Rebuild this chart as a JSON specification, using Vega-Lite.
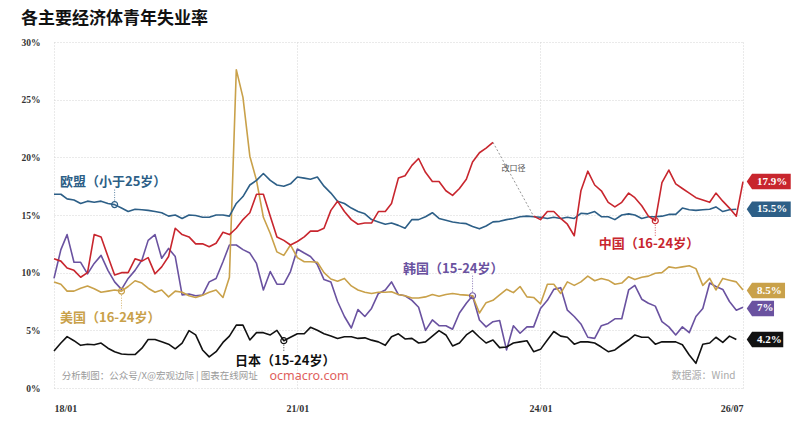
{
  "$schema": "https://vega.github.io/schema/vega-lite/v6.json",
  "width": 689,
  "height": 346,
  "autosize": {"type": "none"},
  "padding": {"left": 54, "top": 42, "right": 57, "bottom": 46},
  "background": "white",
  "title": {
    "text": "各主要经济体青年失业率",
    "anchor": "start",
    "font": "Noto Sans CJK SC",
    "fontSize": 17,
    "fontWeight": "bold",
    "color": "#111111",
    "offset": 9
  },
  "config": {
    "view": {"stroke": null},
    "font": "Noto Sans CJK SC",
    "axis": {
      "labelFont": "Liberation Serif",
      "labelFontWeight": "bold",
      "labelColor": "#333333",
      "ticks": false,
      "domain": false,
      "grid": true,
      "gridColor": "#d4d4d4",
      "gridDash": [1, 2],
      "gridWidth": 1
    }
  },
  "datasets": {
    "lines": [
      {"s":"kr","d":"2018-01","v":9.5},{"s":"kr","d":"2018-02","v":12.0},{"s":"kr","d":"2018-03","v":13.3},{"s":"kr","d":"2018-04","v":10.9},{"s":"kr","d":"2018-05","v":10.9},{"s":"kr","d":"2018-06","v":9.9},{"s":"kr","d":"2018-07","v":10.8},{"s":"kr","d":"2018-08","v":11.5},{"s":"kr","d":"2018-09","v":10.2},{"s":"kr","d":"2018-10","v":9.2},{"s":"kr","d":"2018-11","v":8.55},{"s":"kr","d":"2018-12","v":9.5},
      {"s":"kr","d":"2019-01","v":10.2},{"s":"kr","d":"2019-02","v":11.1},{"s":"kr","d":"2019-03","v":12.8},{"s":"kr","d":"2019-04","v":13.3},{"s":"kr","d":"2019-05","v":11.25},{"s":"kr","d":"2019-06","v":12.1},{"s":"kr","d":"2019-07","v":11.4},{"s":"kr","d":"2019-08","v":8.07},{"s":"kr","d":"2019-09","v":8.15},{"s":"kr","d":"2019-10","v":8.0},{"s":"kr","d":"2019-11","v":8.05},{"s":"kr","d":"2019-12","v":9.2},
      {"s":"kr","d":"2020-01","v":9.5},{"s":"kr","d":"2020-02","v":10.95},{"s":"kr","d":"2020-03","v":12.4},{"s":"kr","d":"2020-04","v":12.4},{"s":"kr","d":"2020-05","v":12.0},{"s":"kr","d":"2020-06","v":11.7},{"s":"kr","d":"2020-07","v":10.8},{"s":"kr","d":"2020-08","v":8.5},{"s":"kr","d":"2020-09","v":10.1},{"s":"kr","d":"2020-10","v":9.0},{"s":"kr","d":"2020-11","v":9.0},{"s":"kr","d":"2020-12","v":10.1},
      {"s":"kr","d":"2021-01","v":12.05},{"s":"kr","d":"2021-02","v":11.7},{"s":"kr","d":"2021-03","v":11.4},{"s":"kr","d":"2021-04","v":10.7},{"s":"kr","d":"2021-05","v":9.4},{"s":"kr","d":"2021-06","v":9.2},{"s":"kr","d":"2021-07","v":7.5},{"s":"kr","d":"2021-08","v":6.2},{"s":"kr","d":"2021-09","v":5.2},{"s":"kr","d":"2021-10","v":6.8},{"s":"kr","d":"2021-11","v":6.2},{"s":"kr","d":"2021-12","v":6.9},
      {"s":"kr","d":"2022-01","v":8.2},{"s":"kr","d":"2022-02","v":8.5},{"s":"kr","d":"2022-03","v":9.2},{"s":"kr","d":"2022-04","v":8.1},{"s":"kr","d":"2022-05","v":8.0},{"s":"kr","d":"2022-06","v":7.6},{"s":"kr","d":"2022-07","v":7.0},{"s":"kr","d":"2022-08","v":5.0},{"s":"kr","d":"2022-09","v":5.9},{"s":"kr","d":"2022-10","v":5.4},{"s":"kr","d":"2022-11","v":5.4},{"s":"kr","d":"2022-12","v":5.1},
      {"s":"kr","d":"2023-01","v":6.5},{"s":"kr","d":"2023-02","v":7.35},{"s":"kr","d":"2023-03","v":8.0},{"s":"kr","d":"2023-04","v":5.9},{"s":"kr","d":"2023-05","v":5.3},{"s":"kr","d":"2023-06","v":5.75},{"s":"kr","d":"2023-07","v":5.85},{"s":"kr","d":"2023-08","v":3.3},{"s":"kr","d":"2023-09","v":5.4},{"s":"kr","d":"2023-10","v":4.75},{"s":"kr","d":"2023-11","v":5.3},{"s":"kr","d":"2023-12","v":5.3},
      {"s":"kr","d":"2024-01","v":6.9},{"s":"kr","d":"2024-02","v":7.6},{"s":"kr","d":"2024-03","v":8.55},{"s":"kr","d":"2024-04","v":8.7},{"s":"kr","d":"2024-05","v":6.75},{"s":"kr","d":"2024-06","v":6.2},{"s":"kr","d":"2024-07","v":5.55},{"s":"kr","d":"2024-08","v":4.4},{"s":"kr","d":"2024-09","v":4.3},{"s":"kr","d":"2024-10","v":5.4},{"s":"kr","d":"2024-11","v":5.6},{"s":"kr","d":"2024-12","v":6.0},
      {"s":"kr","d":"2025-01","v":6.0},{"s":"kr","d":"2025-02","v":8.5},{"s":"kr","d":"2025-03","v":8.9},{"s":"kr","d":"2025-04","v":7.7},{"s":"kr","d":"2025-05","v":7.35},{"s":"kr","d":"2025-06","v":7.1},{"s":"kr","d":"2025-07","v":5.75},{"s":"kr","d":"2025-08","v":5.3},{"s":"kr","d":"2025-09","v":4.6},{"s":"kr","d":"2025-10","v":5.3},{"s":"kr","d":"2025-11","v":4.8},{"s":"kr","d":"2025-12","v":6.2},
      {"s":"kr","d":"2026-01","v":6.9},{"s":"kr","d":"2026-02","v":9.1},{"s":"kr","d":"2026-03","v":8.8},{"s":"kr","d":"2026-04","v":8.55},{"s":"kr","d":"2026-05","v":7.5},{"s":"kr","d":"2026-06","v":6.75},{"s":"kr","d":"2026-07","v":7.0},

      {"s":"us","d":"2018-01","v":9.2},{"s":"us","d":"2018-02","v":9.0},{"s":"us","d":"2018-03","v":8.4},{"s":"us","d":"2018-04","v":8.4},{"s":"us","d":"2018-05","v":8.65},{"s":"us","d":"2018-06","v":8.85},{"s":"us","d":"2018-07","v":8.6},{"s":"us","d":"2018-08","v":8.3},{"s":"us","d":"2018-09","v":8.4},{"s":"us","d":"2018-10","v":8.5},{"s":"us","d":"2018-11","v":8.4},{"s":"us","d":"2018-12","v":8.8},
      {"s":"us","d":"2019-01","v":9.3},{"s":"us","d":"2019-02","v":9.1},{"s":"us","d":"2019-03","v":8.65},{"s":"us","d":"2019-04","v":8.3},{"s":"us","d":"2019-05","v":8.5},{"s":"us","d":"2019-06","v":7.9},{"s":"us","d":"2019-07","v":8.4},{"s":"us","d":"2019-08","v":8.3},{"s":"us","d":"2019-09","v":8.0},{"s":"us","d":"2019-10","v":7.85},{"s":"us","d":"2019-11","v":8.05},{"s":"us","d":"2019-12","v":8.3},
      {"s":"us","d":"2020-01","v":8.5},{"s":"us","d":"2020-02","v":7.85},{"s":"us","d":"2020-03","v":9.6},{"s":"us","d":"2020-04","v":27.6},{"s":"us","d":"2020-05","v":25.2},{"s":"us","d":"2020-06","v":20.1},{"s":"us","d":"2020-07","v":18.0},{"s":"us","d":"2020-08","v":14.8},{"s":"us","d":"2020-09","v":13.4},{"s":"us","d":"2020-10","v":11.8},{"s":"us","d":"2020-11","v":11.5},{"s":"us","d":"2020-12","v":12.4},
      {"s":"us","d":"2021-01","v":11.3},{"s":"us","d":"2021-02","v":10.95},{"s":"us","d":"2021-03","v":10.95},{"s":"us","d":"2021-04","v":10.9},{"s":"us","d":"2021-05","v":10.0},{"s":"us","d":"2021-06","v":9.45},{"s":"us","d":"2021-07","v":9.25},{"s":"us","d":"2021-08","v":9.5},{"s":"us","d":"2021-09","v":8.85},{"s":"us","d":"2021-10","v":8.5},{"s":"us","d":"2021-11","v":8.3},{"s":"us","d":"2021-12","v":8.2},
      {"s":"us","d":"2022-01","v":8.3},{"s":"us","d":"2022-02","v":8.3},{"s":"us","d":"2022-03","v":8.35},{"s":"us","d":"2022-04","v":8.1},{"s":"us","d":"2022-05","v":8.0},{"s":"us","d":"2022-06","v":7.8},{"s":"us","d":"2022-07","v":7.8},{"s":"us","d":"2022-08","v":7.9},{"s":"us","d":"2022-09","v":8.1},{"s":"us","d":"2022-10","v":7.95},{"s":"us","d":"2022-11","v":8.1},{"s":"us","d":"2022-12","v":8.2},
      {"s":"us","d":"2023-01","v":8.1},{"s":"us","d":"2023-02","v":8.05},{"s":"us","d":"2023-03","v":8.0},{"s":"us","d":"2023-04","v":6.5},{"s":"us","d":"2023-05","v":7.4},{"s":"us","d":"2023-06","v":7.6},{"s":"us","d":"2023-07","v":8.07},{"s":"us","d":"2023-08","v":8.56},{"s":"us","d":"2023-09","v":8.27},{"s":"us","d":"2023-10","v":8.8},{"s":"us","d":"2023-11","v":7.9},{"s":"us","d":"2023-12","v":7.85},
      {"s":"us","d":"2024-01","v":7.3},{"s":"us","d":"2024-02","v":9.0},{"s":"us","d":"2024-03","v":9.0},{"s":"us","d":"2024-04","v":8.2},{"s":"us","d":"2024-05","v":9.2},{"s":"us","d":"2024-06","v":8.9},{"s":"us","d":"2024-07","v":9.2},{"s":"us","d":"2024-08","v":9.7},{"s":"us","d":"2024-09","v":9.3},{"s":"us","d":"2024-10","v":9.5},{"s":"us","d":"2024-11","v":9.35},{"s":"us","d":"2024-12","v":9.0},
      {"s":"us","d":"2025-01","v":9.1},{"s":"us","d":"2025-02","v":9.65},{"s":"us","d":"2025-03","v":9.4},{"s":"us","d":"2025-04","v":9.6},{"s":"us","d":"2025-05","v":9.7},{"s":"us","d":"2025-06","v":9.95},{"s":"us","d":"2025-07","v":10.0},{"s":"us","d":"2025-08","v":10.5},{"s":"us","d":"2025-09","v":10.4},{"s":"us","d":"2025-10","v":10.5},{"s":"us","d":"2025-11","v":10.6},{"s":"us","d":"2025-12","v":10.35},
      {"s":"us","d":"2026-01","v":8.9},{"s":"us","d":"2026-02","v":9.5},{"s":"us","d":"2026-03","v":8.5},{"s":"us","d":"2026-04","v":9.5},{"s":"us","d":"2026-05","v":9.35},{"s":"us","d":"2026-06","v":9.2},{"s":"us","d":"2026-07","v":8.5},

      {"s":"eu","d":"2018-01","v":16.8},{"s":"eu","d":"2018-02","v":16.8},{"s":"eu","d":"2018-03","v":16.4},{"s":"eu","d":"2018-04","v":16.3},{"s":"eu","d":"2018-05","v":16.0},{"s":"eu","d":"2018-06","v":16.2},{"s":"eu","d":"2018-07","v":16.1},{"s":"eu","d":"2018-08","v":16.2},{"s":"eu","d":"2018-09","v":16.0},{"s":"eu","d":"2018-10","v":15.9},{"s":"eu","d":"2018-11","v":15.6},{"s":"eu","d":"2018-12","v":15.3},
      {"s":"eu","d":"2019-01","v":15.5},{"s":"eu","d":"2019-02","v":15.45},{"s":"eu","d":"2019-03","v":15.4},{"s":"eu","d":"2019-04","v":15.3},{"s":"eu","d":"2019-05","v":15.2},{"s":"eu","d":"2019-06","v":14.9},{"s":"eu","d":"2019-07","v":15.0},{"s":"eu","d":"2019-08","v":14.7},{"s":"eu","d":"2019-09","v":15.0},{"s":"eu","d":"2019-10","v":14.95},{"s":"eu","d":"2019-11","v":14.8},{"s":"eu","d":"2019-12","v":14.8},
      {"s":"eu","d":"2020-01","v":15.0},{"s":"eu","d":"2020-02","v":15.0},{"s":"eu","d":"2020-03","v":14.9},{"s":"eu","d":"2020-04","v":16.0},{"s":"eu","d":"2020-05","v":16.6},{"s":"eu","d":"2020-06","v":17.6},{"s":"eu","d":"2020-07","v":18.0},{"s":"eu","d":"2020-08","v":18.6},{"s":"eu","d":"2020-09","v":18.0},{"s":"eu","d":"2020-10","v":17.6},{"s":"eu","d":"2020-11","v":17.5},{"s":"eu","d":"2020-12","v":17.7},
      {"s":"eu","d":"2021-01","v":18.3},{"s":"eu","d":"2021-02","v":18.2},{"s":"eu","d":"2021-03","v":18.1},{"s":"eu","d":"2021-04","v":18.3},{"s":"eu","d":"2021-05","v":17.5},{"s":"eu","d":"2021-06","v":16.9},{"s":"eu","d":"2021-07","v":16.2},{"s":"eu","d":"2021-08","v":16.0},{"s":"eu","d":"2021-09","v":15.6},{"s":"eu","d":"2021-10","v":15.3},{"s":"eu","d":"2021-11","v":15.1},{"s":"eu","d":"2021-12","v":14.6},
      {"s":"eu","d":"2022-01","v":14.4},{"s":"eu","d":"2022-02","v":14.2},{"s":"eu","d":"2022-03","v":14.3},{"s":"eu","d":"2022-04","v":14.1},{"s":"eu","d":"2022-05","v":13.85},{"s":"eu","d":"2022-06","v":14.6},{"s":"eu","d":"2022-07","v":14.6},{"s":"eu","d":"2022-08","v":14.85},{"s":"eu","d":"2022-09","v":15.2},{"s":"eu","d":"2022-10","v":14.7},{"s":"eu","d":"2022-11","v":14.55},{"s":"eu","d":"2022-12","v":14.4},
      {"s":"eu","d":"2023-01","v":14.3},{"s":"eu","d":"2023-02","v":14.25},{"s":"eu","d":"2023-03","v":14.0},{"s":"eu","d":"2023-04","v":13.8},{"s":"eu","d":"2023-05","v":14.05},{"s":"eu","d":"2023-06","v":14.4},{"s":"eu","d":"2023-07","v":14.45},{"s":"eu","d":"2023-08","v":14.6},{"s":"eu","d":"2023-09","v":14.7},{"s":"eu","d":"2023-10","v":14.85},{"s":"eu","d":"2023-11","v":14.9},{"s":"eu","d":"2023-12","v":14.85},
      {"s":"eu","d":"2024-01","v":14.8},{"s":"eu","d":"2024-02","v":14.7},{"s":"eu","d":"2024-03","v":14.8},{"s":"eu","d":"2024-04","v":14.7},{"s":"eu","d":"2024-05","v":14.8},{"s":"eu","d":"2024-06","v":14.7},{"s":"eu","d":"2024-07","v":15.15},{"s":"eu","d":"2024-08","v":15.1},{"s":"eu","d":"2024-09","v":15.3},{"s":"eu","d":"2024-10","v":14.85},{"s":"eu","d":"2024-11","v":14.85},{"s":"eu","d":"2024-12","v":14.6},
      {"s":"eu","d":"2025-01","v":15.0},{"s":"eu","d":"2025-02","v":15.1},{"s":"eu","d":"2025-03","v":15.0},{"s":"eu","d":"2025-04","v":14.7},{"s":"eu","d":"2025-05","v":14.85},{"s":"eu","d":"2025-06","v":14.85},{"s":"eu","d":"2025-07","v":14.9},{"s":"eu","d":"2025-08","v":15.05},{"s":"eu","d":"2025-09","v":15.05},{"s":"eu","d":"2025-10","v":15.6},{"s":"eu","d":"2025-11","v":15.45},{"s":"eu","d":"2025-12","v":15.4},
      {"s":"eu","d":"2026-01","v":15.45},{"s":"eu","d":"2026-02","v":15.5},{"s":"eu","d":"2026-03","v":15.7},{"s":"eu","d":"2026-04","v":15.3},{"s":"eu","d":"2026-05","v":15.45},{"s":"eu","d":"2026-06","v":15.5},

      {"s":"jp","d":"2018-01","v":3.2},{"s":"jp","d":"2018-02","v":3.9},{"s":"jp","d":"2018-03","v":4.45},{"s":"jp","d":"2018-04","v":4.1},{"s":"jp","d":"2018-05","v":3.7},{"s":"jp","d":"2018-06","v":3.8},{"s":"jp","d":"2018-07","v":3.75},{"s":"jp","d":"2018-08","v":3.9},{"s":"jp","d":"2018-09","v":3.45},{"s":"jp","d":"2018-10","v":3.15},{"s":"jp","d":"2018-11","v":2.95},{"s":"jp","d":"2018-12","v":2.9},
      {"s":"jp","d":"2019-01","v":2.9},{"s":"jp","d":"2019-02","v":3.45},{"s":"jp","d":"2019-03","v":4.2},{"s":"jp","d":"2019-04","v":4.2},{"s":"jp","d":"2019-05","v":4.0},{"s":"jp","d":"2019-06","v":3.8},{"s":"jp","d":"2019-07","v":3.4},{"s":"jp","d":"2019-08","v":3.9},{"s":"jp","d":"2019-09","v":4.97},{"s":"jp","d":"2019-10","v":4.6},{"s":"jp","d":"2019-11","v":3.3},{"s":"jp","d":"2019-12","v":2.7},
      {"s":"jp","d":"2020-01","v":3.15},{"s":"jp","d":"2020-02","v":3.95},{"s":"jp","d":"2020-03","v":4.5},{"s":"jp","d":"2020-04","v":5.45},{"s":"jp","d":"2020-05","v":5.45},{"s":"jp","d":"2020-06","v":4.16},{"s":"jp","d":"2020-07","v":4.8},{"s":"jp","d":"2020-08","v":4.8},{"s":"jp","d":"2020-09","v":4.6},{"s":"jp","d":"2020-10","v":5.0},{"s":"jp","d":"2020-11","v":4.1},{"s":"jp","d":"2020-12","v":4.4},
      {"s":"jp","d":"2021-01","v":4.7},{"s":"jp","d":"2021-02","v":4.7},{"s":"jp","d":"2021-03","v":5.26},{"s":"jp","d":"2021-04","v":5.0},{"s":"jp","d":"2021-05","v":4.7},{"s":"jp","d":"2021-06","v":4.5},{"s":"jp","d":"2021-07","v":4.3},{"s":"jp","d":"2021-08","v":4.45},{"s":"jp","d":"2021-09","v":4.45},{"s":"jp","d":"2021-10","v":4.3},{"s":"jp","d":"2021-11","v":4.35},{"s":"jp","d":"2021-12","v":4.15},
      {"s":"jp","d":"2022-01","v":4.0},{"s":"jp","d":"2022-02","v":3.7},{"s":"jp","d":"2022-03","v":4.45},{"s":"jp","d":"2022-04","v":4.7},{"s":"jp","d":"2022-05","v":4.25},{"s":"jp","d":"2022-06","v":4.3},{"s":"jp","d":"2022-07","v":3.9},{"s":"jp","d":"2022-08","v":4.0},{"s":"jp","d":"2022-09","v":4.5},{"s":"jp","d":"2022-10","v":4.97},{"s":"jp","d":"2022-11","v":4.6},{"s":"jp","d":"2022-12","v":3.65},
      {"s":"jp","d":"2023-01","v":3.9},{"s":"jp","d":"2023-02","v":4.6},{"s":"jp","d":"2023-03","v":4.97},{"s":"jp","d":"2023-04","v":4.4},{"s":"jp","d":"2023-05","v":3.9},{"s":"jp","d":"2023-06","v":4.16},{"s":"jp","d":"2023-07","v":3.5},{"s":"jp","d":"2023-08","v":3.55},{"s":"jp","d":"2023-09","v":3.9},{"s":"jp","d":"2023-10","v":4.0},{"s":"jp","d":"2023-11","v":4.1},{"s":"jp","d":"2023-12","v":3.15},
      {"s":"jp","d":"2024-01","v":3.35},{"s":"jp","d":"2024-02","v":4.16},{"s":"jp","d":"2024-03","v":4.9},{"s":"jp","d":"2024-04","v":4.5},{"s":"jp","d":"2024-05","v":4.4},{"s":"jp","d":"2024-06","v":3.8},{"s":"jp","d":"2024-07","v":4.0},{"s":"jp","d":"2024-08","v":4.0},{"s":"jp","d":"2024-09","v":3.9},{"s":"jp","d":"2024-10","v":3.55},{"s":"jp","d":"2024-11","v":3.15},{"s":"jp","d":"2024-12","v":3.3},
      {"s":"jp","d":"2025-01","v":3.75},{"s":"jp","d":"2025-02","v":4.16},{"s":"jp","d":"2025-03","v":4.6},{"s":"jp","d":"2025-04","v":4.4},{"s":"jp","d":"2025-05","v":4.4},{"s":"jp","d":"2025-06","v":3.8},{"s":"jp","d":"2025-07","v":4.0},{"s":"jp","d":"2025-08","v":4.0},{"s":"jp","d":"2025-09","v":4.0},{"s":"jp","d":"2025-10","v":3.75},{"s":"jp","d":"2025-11","v":2.86},{"s":"jp","d":"2025-12","v":2.14},
      {"s":"jp","d":"2026-01","v":3.8},{"s":"jp","d":"2026-02","v":3.9},{"s":"jp","d":"2026-03","v":4.4},{"s":"jp","d":"2026-04","v":3.95},{"s":"jp","d":"2026-05","v":4.5},{"s":"jp","d":"2026-06","v":4.2},

      {"s":"cn","d":"2018-01","v":11.2},{"s":"cn","d":"2018-02","v":11.0},{"s":"cn","d":"2018-03","v":10.4},{"s":"cn","d":"2018-04","v":10.2},{"s":"cn","d":"2018-05","v":9.6},{"s":"cn","d":"2018-06","v":10.0},{"s":"cn","d":"2018-07","v":13.3},{"s":"cn","d":"2018-08","v":13.1},{"s":"cn","d":"2018-09","v":11.4},{"s":"cn","d":"2018-10","v":9.8},{"s":"cn","d":"2018-11","v":10.0},{"s":"cn","d":"2018-12","v":10.0},
      {"s":"cn","d":"2019-01","v":11.2},{"s":"cn","d":"2019-02","v":11.0},{"s":"cn","d":"2019-03","v":11.3},{"s":"cn","d":"2019-04","v":9.9},{"s":"cn","d":"2019-05","v":10.5},{"s":"cn","d":"2019-06","v":11.4},{"s":"cn","d":"2019-07","v":13.85},{"s":"cn","d":"2019-08","v":13.3},{"s":"cn","d":"2019-09","v":13.1},{"s":"cn","d":"2019-10","v":12.5},{"s":"cn","d":"2019-11","v":12.5},{"s":"cn","d":"2019-12","v":12.25},
      {"s":"cn","d":"2020-01","v":12.55},{"s":"cn","d":"2020-02","v":13.5},{"s":"cn","d":"2020-03","v":13.3},{"s":"cn","d":"2020-04","v":13.85},{"s":"cn","d":"2020-05","v":14.6},{"s":"cn","d":"2020-06","v":15.2},{"s":"cn","d":"2020-07","v":16.8},{"s":"cn","d":"2020-08","v":16.8},{"s":"cn","d":"2020-09","v":14.9},{"s":"cn","d":"2020-10","v":13.1},{"s":"cn","d":"2020-11","v":12.8},{"s":"cn","d":"2020-12","v":12.4},
      {"s":"cn","d":"2021-01","v":12.7},{"s":"cn","d":"2021-02","v":13.1},{"s":"cn","d":"2021-03","v":13.6},{"s":"cn","d":"2021-04","v":13.6},{"s":"cn","d":"2021-05","v":13.85},{"s":"cn","d":"2021-06","v":15.4},{"s":"cn","d":"2021-07","v":16.2},{"s":"cn","d":"2021-08","v":15.3},{"s":"cn","d":"2021-09","v":14.6},{"s":"cn","d":"2021-10","v":14.2},{"s":"cn","d":"2021-11","v":14.3},{"s":"cn","d":"2021-12","v":14.3},
      {"s":"cn","d":"2022-01","v":15.3},{"s":"cn","d":"2022-02","v":15.3},{"s":"cn","d":"2022-03","v":16.0},{"s":"cn","d":"2022-04","v":18.2},{"s":"cn","d":"2022-05","v":18.4},{"s":"cn","d":"2022-06","v":19.3},{"s":"cn","d":"2022-07","v":19.9},{"s":"cn","d":"2022-08","v":18.7},{"s":"cn","d":"2022-09","v":17.9},{"s":"cn","d":"2022-10","v":17.9},{"s":"cn","d":"2022-11","v":17.1},{"s":"cn","d":"2022-12","v":16.7},
      {"s":"cn","d":"2023-01","v":17.3},{"s":"cn","d":"2023-02","v":18.1},{"s":"cn","d":"2023-03","v":19.6},{"s":"cn","d":"2023-04","v":20.4},{"s":"cn","d":"2023-05","v":20.8},{"s":"cn","d":"2023-06","v":21.3},

      {"s":"cn2","d":"2023-12","v":14.9},
      {"s":"cn2","d":"2024-01","v":14.6},{"s":"cn2","d":"2024-02","v":15.3},{"s":"cn2","d":"2024-03","v":15.3},{"s":"cn2","d":"2024-04","v":14.7},{"s":"cn2","d":"2024-05","v":14.2},{"s":"cn2","d":"2024-06","v":13.2},{"s":"cn2","d":"2024-07","v":17.1},{"s":"cn2","d":"2024-08","v":18.8},{"s":"cn2","d":"2024-09","v":17.6},{"s":"cn2","d":"2024-10","v":17.1},{"s":"cn2","d":"2024-11","v":16.1},{"s":"cn2","d":"2024-12","v":15.7},
      {"s":"cn2","d":"2025-01","v":16.1},{"s":"cn2","d":"2025-02","v":16.9},{"s":"cn2","d":"2025-03","v":16.5},{"s":"cn2","d":"2025-04","v":15.8},{"s":"cn2","d":"2025-05","v":14.9},{"s":"cn2","d":"2025-06","v":14.5},{"s":"cn2","d":"2025-07","v":17.8},{"s":"cn2","d":"2025-08","v":18.9},{"s":"cn2","d":"2025-09","v":17.7},{"s":"cn2","d":"2025-10","v":17.3},{"s":"cn2","d":"2025-11","v":16.9},{"s":"cn2","d":"2025-12","v":16.5},
      {"s":"cn2","d":"2026-01","v":16.3},{"s":"cn2","d":"2026-02","v":16.1},{"s":"cn2","d":"2026-03","v":16.9},{"s":"cn2","d":"2026-04","v":16.2},{"s":"cn2","d":"2026-05","v":15.6},{"s":"cn2","d":"2026-06","v":14.9},{"s":"cn2","d":"2026-07","v":17.9}
    ],
    "circles": [
      {"s":"eu","d":"2018-10","v":15.9},
      {"s":"us","d":"2018-11","v":8.4},
      {"s":"jp","d":"2020-11","v":4.1},
      {"s":"kr","d":"2023-03","v":8.0},
      {"s":"cn2","d":"2025-06","v":14.5}
    ],
    "leaders": [
      {"s":"eu","d":"2018-10","v":16.25,"v2":17.3},
      {"s":"us","d":"2018-11","v":8.05,"v2":6.9},
      {"s":"jp","d":"2020-11","v":3.75,"v2":3.15},
      {"s":"kr","d":"2023-03","v":8.35,"v2":9.8},
      {"s":"cn2","d":"2025-06","v":14.15,"v2":13.1}
    ],
    "notes": [
      {"s":"eu","d":"2018-01-28","v":17.9,"t":"欧盟（小于25岁）"},
      {"s":"us","d":"2018-01-28","v":6.05,"t":"美国（16-24岁）"},
      {"s":"jp","d":"2020-03-26","v":2.3,"t":"日本（15-24岁）"},
      {"s":"kr","d":"2022-04-22","v":10.3,"t":"韩国（15-24岁）"},
      {"s":"cn2","d":"2024-09-19","v":12.5,"t":"中国（16-24岁）"}
    ],
    "tags": [
      {"s":"cn2","d":"2026-07","v":17.9,"t":"17.9%"},
      {"s":"eu","d":"2026-07","v":15.5,"t":"15.5%"},
      {"s":"us","d":"2026-07","v":8.45,"t":"8.5%"},
      {"s":"kr","d":"2026-07","v":6.9,"t":"7%"},
      {"s":"jp","d":"2026-07","v":4.2,"t":"4.2%"}
    ],
    "misc": [
      {"k":"break","d":"2023-06","v":21.3,"d2":"2023-12","v2":14.9},
      {"k":"breaktext","d":"2023-09","v":18.95,"t":"改口径"},
      {"k":"credit","d":"2018-02-05","v":1.0,"t":"分析制图：公众号/X@宏观边际 | 图表在线网址"},
      {"k":"site","d":"2020-08-28","v":1.0,"t":"ocmacro.com"},
      {"k":"source","d":"2026-05-28","v":1.0,"t":"数据源：Wind"}
    ]
  },
  "encoding": {
    "x": {
      "field": "d",
      "type": "temporal",
      "scale": {
        "type": "utc",
        "domain": [
          {"year": 2018, "month": 1, "date": 1, "utc": true},
          {"year": 2026, "month": 7, "date": 1, "utc": true}
        ]
      },
      "axis": {
        "title": null,
        "values": [
          {"year": 2018, "month": 1, "date": 1, "utc": true},
          {"year": 2021, "month": 1, "date": 1, "utc": true},
          {"year": 2024, "month": 1, "date": 1, "utc": true},
          {"year": 2026, "month": 7, "date": 1, "utc": true}
        ],
        "format": "%y/%m",
        "labelFlush": true,
        "labelFontSize": 10,
        "labelPadding": 15
      }
    },
    "y": {
      "field": "v",
      "type": "quantitative",
      "scale": {"domain": [0, 30], "nice": false},
      "axis": {
        "title": null,
        "values": [0, 5, 10, 15, 20, 25, 30],
        "labelExpr": "datum.value + '%'",
        "labelFontSize": 9.5,
        "labelPadding": 14
      }
    }
  },
  "layer": [
    {
      "data": {"name": "misc"},
      "transform": [{"filter": "datum.k == 'break'"}],
      "mark": {"type": "rule", "color": "#8a8a8a", "strokeDash": [2, 2], "strokeWidth": 0.9},
      "encoding": {
        "x2": {"field": "d2"},
        "y2": {"field": "v2"}
      }
    },
    {
      "data": {"name": "leaders"},
      "mark": {"type": "rule", "strokeDash": [1, 1.5], "strokeWidth": 1, "opacity": 0.8},
      "encoding": {
        "y2": {"field": "v2"},
        "color": {
          "field": "s",
          "type": "nominal",
          "scale": {
            "domain": ["cn", "cn2", "eu", "us", "kr", "jp"],
            "range": ["#c8262e", "#c8262e", "#2d5f87", "#c9a14a", "#6a52a0", "#111111"]
          },
          "legend": null
        }
      }
    },
    {
      "data": {"name": "lines"},
      "mark": {"type": "line", "strokeJoin": "round"},
      "encoding": {
        "color": {
          "field": "s",
          "type": "nominal",
          "scale": {
            "domain": ["cn", "cn2", "eu", "us", "kr", "jp"],
            "range": ["#c8262e", "#c8262e", "#2d5f87", "#c9a14a", "#6a52a0", "#111111"]
          },
          "legend": null
        },
        "strokeWidth": {
          "field": "s",
          "type": "nominal",
          "scale": {
            "domain": ["cn", "cn2", "eu", "us", "kr", "jp"],
            "range": [1.6, 1.6, 1.5, 1.4, 1.3, 1.9]
          },
          "legend": null
        }
      }
    },
    {
      "data": {"name": "circles"},
      "mark": {"type": "point", "shape": "circle", "filled": false, "size": 36, "strokeWidth": 1.2, "opacity": 1},
      "encoding": {
        "color": {
          "field": "s",
          "type": "nominal",
          "scale": {
            "domain": ["cn", "cn2", "eu", "us", "kr", "jp"],
            "range": ["#c8262e", "#c8262e", "#2d5f87", "#c9a14a", "#6a52a0", "#111111"]
          },
          "legend": null
        }
      }
    },
    {
      "data": {"name": "notes"},
      "mark": {"type": "text", "align": "left", "baseline": "middle", "fontSize": 13, "fontWeight": "bold", "font": "Noto Sans CJK SC"},
      "encoding": {
        "text": {"field": "t"},
        "color": {
          "field": "s",
          "type": "nominal",
          "scale": {
            "domain": ["cn", "cn2", "eu", "us", "kr", "jp"],
            "range": ["#c8262e", "#c8262e", "#3f6f98", "#c9a14a", "#6a52a0", "#111111"]
          },
          "legend": null
        }
      }
    },
    {
      "data": {"name": "misc"},
      "transform": [{"filter": "datum.k == 'breaktext'"}],
      "mark": {"type": "text", "align": "center", "baseline": "middle", "fontSize": 8, "color": "#555555"},
      "encoding": {"text": {"field": "t"}}
    },
    {
      "data": {"name": "misc"},
      "transform": [{"filter": "datum.k == 'credit'"}],
      "mark": {"type": "text", "align": "left", "baseline": "middle", "fontSize": 9.5, "color": "#9a9a9a"},
      "encoding": {"text": {"field": "t"}}
    },
    {
      "data": {"name": "misc"},
      "transform": [{"filter": "datum.k == 'site'"}],
      "mark": {"type": "text", "align": "left", "baseline": "middle", "fontSize": 12.5, "font": "Noto Sans", "color": "#e0605c"},
      "encoding": {"text": {"field": "t"}}
    },
    {
      "data": {"name": "misc"},
      "transform": [{"filter": "datum.k == 'source'"}],
      "mark": {"type": "text", "align": "right", "baseline": "middle", "fontSize": 10, "color": "#aaaaaa"},
      "encoding": {"text": {"field": "t"}}
    },
    {
      "data": {"name": "tags"},
      "mark": {"type": "point", "filled": true, "size": 1936, "opacity": 1, "strokeWidth": 0},
      "encoding": {
        "color": {
          "field": "s",
          "type": "nominal",
          "scale": {
            "domain": ["cn", "cn2", "eu", "us", "kr", "jp"],
            "range": ["#c8262e", "#c8262e", "#2d5f87", "#c9a14a", "#6a52a0", "#111111"]
          },
          "legend": null
        },
        "shape": {
          "field": "s",
          "type": "nominal",
          "scale": {
            "domain": ["cn2", "eu", "us", "kr", "jp"],
            "range": [
              "M0.17,0L0.41,-0.352L2.17,-0.352L2.17,0.352L0.41,0.352Z",
              "M0.17,0L0.41,-0.352L2.17,-0.352L2.17,0.352L0.41,0.352Z",
              "M0.17,0L0.41,-0.352L1.91,-0.352L1.91,0.352L0.41,0.352Z",
              "M0.17,0L0.41,-0.352L1.41,-0.352L1.41,0.352L0.41,0.352Z",
              "M0.17,0L0.41,-0.352L1.83,-0.352L1.83,0.352L0.41,0.352Z"
            ]
          },
          "legend": null
        }
      }
    },
    {
      "data": {"name": "tags"},
      "mark": {"type": "text", "align": "left", "baseline": "middle", "dx": 14, "fontSize": 11, "font": "Liberation Serif", "fontWeight": "bold", "color": "white"},
      "encoding": {"text": {"field": "t"}}
    }
  ]
}
